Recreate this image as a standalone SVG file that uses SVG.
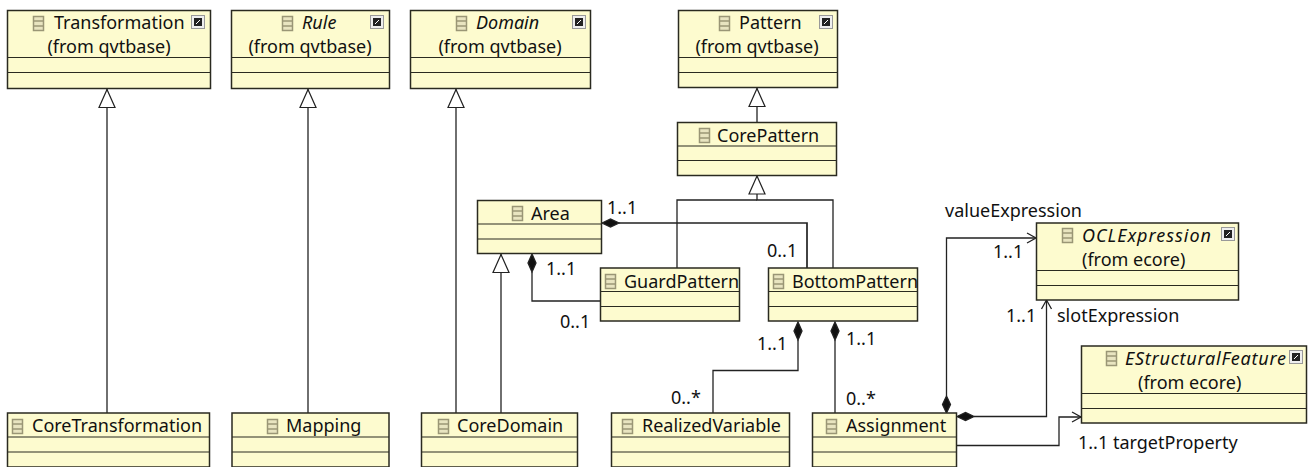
<svg xmlns="http://www.w3.org/2000/svg" width="1310" height="467" viewBox="0 0 1310 467">
<style>
.b{fill:#fdfbcf;stroke:#2a2a20;stroke-width:1.5}
.s{stroke:#2a2a20;stroke-width:1.2;fill:none}
text{font-family:"Noto Sans","DejaVu Sans",sans-serif;font-size:18px;fill:#111}
.n{text-anchor:middle}
.i{font-style:italic}
.c path{fill:none;stroke:#222;stroke-width:1.3}
.c path.d{fill:#111}
</style>
<defs>
<marker id="tri" markerUnits="userSpaceOnUse" markerWidth="22" markerHeight="18" refX="20" refY="9" orient="auto" viewBox="0 0 22 18"><path d="M19.500 9L1.500 1V17Z" fill="#fff" stroke="#222" stroke-width="1.200"/></marker>
<symbol id="cls" width="14" height="18" viewBox="0 0 14 18"><rect x="1.500" y="1.500" width="10" height="14" fill="#e8e4c0" stroke="#9a9676" stroke-width="1.500"/><path d="M1.500 6H11.500M1.500 11H11.500" stroke="#9a9676" stroke-width="1.500"/></symbol>
<symbol id="lnk" width="14" height="14" viewBox="0 0 14 14"><rect x=".5" y=".5" width="13" height="13" fill="#eee" stroke="#999"/><rect x="3" y="3" width="8" height="8" fill="#222"/><path d="M5 9L9 5" stroke="#fff"/></symbol>
</defs>
<g id="connectors" class="c">
<path d="M107 413V89" marker-end="url(#tri)"/>
<path d="M308 413V89" marker-end="url(#tri)"/>
<path d="M456 413V89" marker-end="url(#tri)"/>
<path d="M501 413V254" marker-end="url(#tri)"/>
<path d="M757 122V88" marker-end="url(#tri)"/>
<path d="M677 268V200H757"/>
<path d="M833 268V200H757V175.500" marker-end="url(#tri)"/>
<path d="M807 268V223H619" style="stroke-width:1.700"/>
<path class="d" d="M602 223L610.500 219L619 223L610.500 227Z"/>
<path d="M600 301H532V272"/>
<path class="d" d="M532 254L528 263L532 272L536 263Z"/>
<path d="M798 340V370.500H713V413"/>
<path class="d" d="M798 322L794 331L798 340L802 331Z"/>
<path d="M835 340V413"/>
<path class="d" d="M835 322L831 331L835 340L839 331Z"/>
<path d="M946.500 396V238H1035"/>
<path d="M1027 233L1036 238L1027 243"/>
<path class="d" d="M946.500 396L942.500 404.500L946.500 413L950.500 404.500Z"/>
<path d="M974 416.500H1046.500V300"/>
<path d="M1041.500 309L1046.500 300L1051.500 309"/>
<path class="d" d="M957 416.500L965.500 412.500L974 416.500L965.500 420.500Z"/>
<path d="M957 445.500H1059V417H1081"/>
<path d="M1072 412L1081 417L1072 422"/>
</g>
<g id="Transformation"><rect class="b" x="7.500" y="10.500" width="203" height="78"/><path class="s" d="M7.500 57.500H210.500M7.500 72.500H210.500"/><use href="#cls" x="32" y="15"/><use href="#lnk" x="191" y="15"/><text x="54" y="29">Transformation</text><text class="n" x="109" y="53">(from qvtbase)</text></g>
<g id="Rule"><rect class="b" x="231.500" y="10.500" width="158" height="78"/><path class="s" d="M231.500 57.500H389.500M231.500 72.500H389.500"/><use href="#cls" x="281" y="15"/><use href="#lnk" x="370" y="15"/><text class="i" x="302" y="29">Rule</text><text class="n" x="310" y="53">(from qvtbase)</text></g>
<g id="Domain"><rect class="b" x="410.500" y="10.500" width="180" height="78"/><path class="s" d="M410.500 57.500H590.500M410.500 72.500H590.500"/><use href="#cls" x="455" y="15"/><use href="#lnk" x="572" y="15"/><text class="i" x="476" y="29">Domain</text><text class="n" x="500" y="53">(from qvtbase)</text></g>
<g id="Pattern"><rect class="b" x="678.500" y="10.500" width="159" height="77"/><path class="s" d="M678.500 57.500H837.500M678.500 72.500H837.500"/><use href="#cls" x="718" y="15"/><use href="#lnk" x="819" y="15"/><text x="739" y="29">Pattern</text><text class="n" x="757" y="53">(from qvtbase)</text></g>
<g id="CorePattern"><rect class="b" x="677.500" y="122.500" width="159" height="53"/><path class="s" d="M677.500 146H836.500M677.500 160.500H836.500"/><use href="#cls" x="698" y="127"/><text x="717" y="142">CorePattern</text></g>
<g id="Area"><rect class="b" x="477.500" y="200.500" width="124" height="53"/><path class="s" d="M477.500 224H601.500M477.500 239H601.500"/><use href="#cls" x="511" y="205"/><text x="531" y="220">Area</text></g>
<g id="GuardPattern"><rect class="b" x="600.500" y="268" width="139" height="53"/><path class="s" d="M600.500 291.500H739.500M600.500 306.500H739.500"/><use href="#cls" x="604" y="273"/><text x="624" y="288">GuardPattern</text></g>
<g id="BottomPattern"><rect class="b" x="768.500" y="268" width="149" height="53"/><path class="s" d="M768.500 291.500H917.500M768.500 306.500H917.500"/><use href="#cls" x="772" y="273"/><text x="792" y="288">BottomPattern</text></g>
<g id="OCLExpression"><rect class="b" x="1036.500" y="223" width="202" height="77"/><path class="s" d="M1036.500 270.500H1238.500M1036.500 285.500H1238.500"/><use href="#cls" x="1061" y="227"/><use href="#lnk" x="1221" y="227"/><text class="i" x="1082" y="242" textLength="129">OCLExpression</text><text x="1082" y="266">(from ecore)</text></g>
<g id="EStructuralFeature"><rect class="b" x="1081.500" y="346" width="225" height="77"/><path class="s" d="M1081.500 393.500H1306.500M1081.500 408.500H1306.500"/><use href="#cls" x="1105" y="350"/><use href="#lnk" x="1289" y="350"/><text class="i" x="1125" y="365" textLength="161">EStructuralFeature</text><text x="1138" y="389">(from ecore)</text></g>
<g id="CoreTransformation"><rect class="b" x="7.500" y="413" width="202" height="54"/><path class="s" d="M7.500 437H209.500M7.500 452H209.500"/><use href="#cls" x="11" y="418"/><text x="32" y="432">CoreTransformation</text></g>
<g id="Mapping"><rect class="b" x="232" y="413" width="157" height="54"/><path class="s" d="M232 437H389M232 452H389"/><use href="#cls" x="266" y="418"/><text x="286" y="432">Mapping</text></g>
<g id="CoreDomain"><rect class="b" x="421.500" y="413" width="156" height="54"/><path class="s" d="M421.500 437H577.500M421.500 452H577.500"/><use href="#cls" x="437" y="418"/><text x="457" y="432">CoreDomain</text></g>
<g id="RealizedVariable"><rect class="b" x="611.500" y="413" width="178" height="54"/><path class="s" d="M611.500 437H789.500M611.500 452H789.500"/><use href="#cls" x="621" y="418"/><text x="642" y="432">RealizedVariable</text></g>
<g id="Assignment"><rect class="b" x="812.500" y="413" width="144" height="54"/><path class="s" d="M812.500 437H956.500M812.500 452H956.500"/><use href="#cls" x="825" y="418"/><text x="846" y="432">Assignment</text></g>
<g id="labels">
<text x="607" y="214">1..1</text><text x="767" y="257">0..1</text><text x="546" y="275">1..1</text><text x="560" y="328">0..1</text>
<text x="757" y="350">1..1</text><text x="846" y="345">1..1</text><text x="671" y="404">0..*</text><text x="846" y="405">0..*</text>
<text x="945" y="217">valueExpression</text><text x="993" y="258">1..1</text><text x="1006" y="322">1..1</text><text x="1057" y="322">slotExpression</text><text x="1078" y="449">1..1 targetProperty</text>
</g>
</svg>
